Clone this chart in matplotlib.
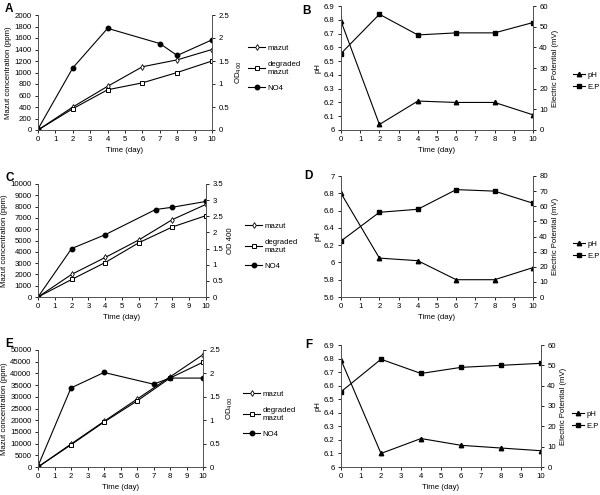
import matplotlib
matplotlib.use('Agg')
import matplotlib.pyplot as plt

plt.rcParams['font.family'] = ['Liberation Sans', 'DejaVu Sans']
plt.rcParams['font.size'] = 5.6

# panels A, C, E : mazut concentration (ppm) + NO4 optical density
days = [0, 2, 4, 6, 8, 10]
days_no4 = [0, 2, 4, 7, 8, 10]

mazut_a = [0, 400, 760, 1100, 1220, 1400]
degraded_a = [0, 370, 700, 820, 1000, 1200]
no4_a = [0.02, 1.35, 2.21, 1.88, 1.62, 1.96]

mazut_c = [0, 2000, 3500, 5050, 6850, 8200]
degraded_c = [0, 1550, 3050, 4800, 6200, 7200]
no4_c = [0, 1.5, 1.93, 2.71, 2.78, 2.96]

mazut_e = [0, 9800, 19500, 29000, 38500, 48000]
degraded_e = [0, 9500, 19200, 28200, 38000, 44800]
no4_e = [0.02, 1.69, 2.02, 1.77, 1.9, 1.9]

# panels B, D, F : pH + electric potential (mV)
ph_b = [6.79, 6.04, 6.21, 6.2, 6.2, 6.11]
ep_b = [37, 56, 46, 47, 47, 52]
ph_d = [6.8, 6.05, 6.02, 5.8, 5.8, 5.94]
ep_d = [37, 56, 58, 71, 70, 62]
ph_f = [6.79, 6.1, 6.21, 6.16, 6.14, 6.12]
ep_f = [37, 53, 46, 49, 50, 51]

W, H = 600, 495
fig = plt.figure(figsize=(6, 4.95), dpi=100)


def box(l, r, t, b):
    return [l / W, 1 - b / H, (r - l) / W, (b - t) / H]


def style(ax):
    ax.spines['top'].set_visible(False)
    ax.tick_params(direction='out', length=2.5, width=0.6, pad=2)
    for s in ax.spines.values():
        s.set_linewidth(0.7)
        s.set_color('#555555')


def mazut_panel(pos, letter, mz, dg, no4, ymax, ystep, odmax, odlabel, leg_xy):
    ax = fig.add_axes(box(*pos))
    ax2 = ax.twinx()
    h1, = ax.plot(days, mz, color='black', lw=0.8, marker='d', ms=3,
                  mfc='white', mew=0.6)
    h2, = ax.plot(days, dg, color='black', lw=0.8, marker='s', ms=3.2,
                  mfc='white', mew=0.7)
    h3, = ax2.plot(days_no4, no4, color='black', lw=0.8, marker='o', ms=3.2)
    ax.set_xlim(0, 10)
    ax.set_xticks(range(11))
    ax.set_ylim(0, ymax)
    ax.set_yticks(range(0, ymax + 1, ystep))
    n = int(round(odmax / 0.5))
    ax2.set_ylim(0, odmax)
    ax2.set_yticks([i * 0.5 for i in range(n + 1)])
    ax2.set_yticklabels(['%g' % (i * 0.5) for i in range(n + 1)])
    ax.set_xlabel('Time (day)', labelpad=3)
    ax.set_ylabel('Mazut concentration (ppm)', labelpad=2)
    ax2.set_ylabel(odlabel, labelpad=3)
    style(ax)
    style(ax2)
    fig.legend([h1, h2, h3], ['mazut', 'degraded\nmazut', 'NO4'],
               loc='center left', bbox_to_anchor=(leg_xy[0] / W, 1 - leg_xy[1] / H),
               frameon=False, handlelength=2.2, labelspacing=1.1, handletextpad=0.3,
               borderpad=0, borderaxespad=0)
    fig.text(5 / W, 1 - (pos[2] - 6) / H, letter,
             fontsize=8.5, fontweight='bold', va='center')


def ph_panel(pos, letter_xy, letter, ph, ep, ylim, ystep, eplim, leg_xy):
    ax = fig.add_axes(box(*pos))
    ax2 = ax.twinx()
    h1, = ax.plot(days, ph, color='black', lw=0.8, marker='^', ms=3.2)
    h2, = ax2.plot(days, ep, color='black', lw=0.8, marker='s', ms=3.2)
    ax.set_xlim(0, 10)
    ax.set_xticks(range(11))
    ax.set_ylim(*ylim)
    n = int(round((ylim[1] - ylim[0]) / ystep))
    ticks = [round(ylim[0] + i * ystep, 2) for i in range(n + 1)]
    ax.set_yticks(ticks)
    ax.set_yticklabels(['%g' % t for t in ticks])
    ax2.set_ylim(0, eplim)
    ax2.set_yticks(range(0, eplim + 1, 10))
    ax.set_xlabel('Time (day)', labelpad=3)
    ax.set_ylabel('pH', labelpad=2)
    ax2.set_ylabel('Electric Potential (mV)', labelpad=3)
    style(ax)
    style(ax2)
    fig.legend([h1, h2], ['pH', 'E.P'], loc='center left',
               bbox_to_anchor=(leg_xy[0] / W, 1 - leg_xy[1] / H),
               frameon=False, handlelength=1.6, labelspacing=0.6, handletextpad=0.3,
               borderpad=0, borderaxespad=0)
    fig.text(letter_xy[0] / W, 1 - letter_xy[1] / H, letter,
             fontsize=8.5, fontweight='bold', va='center')


mazut_panel((38, 212, 15, 130), 'A', mazut_a, degraded_a, no4_a, 2000, 200, 2.5,
            'OD$_{400}$', (248, 68))
mazut_panel((38, 206, 184, 297), 'C', mazut_c, degraded_c, no4_c, 10000, 1000, 3.5,
            'OD 400', (245, 246))
mazut_panel((38, 203, 350, 467), 'E', mazut_e, degraded_e, no4_e, 50000, 5000, 2.5,
            'OD$_{400}$', (243, 414))

ph_panel((341, 533, 6, 130), (302, 11), 'B', ph_b, ep_b, (6, 6.9), 0.1, 60, (573, 81))
ph_panel((341, 533, 176, 297), (304, 176), 'D', ph_d, ep_d, (5.6, 7.0), 0.2, 80, (573, 250))
ph_panel((341, 541, 345, 467), (305, 345), 'F', ph_f, ep_f, (6, 6.9), 0.1, 60, (572, 420))

fig.savefig('out.png', dpi=100)
